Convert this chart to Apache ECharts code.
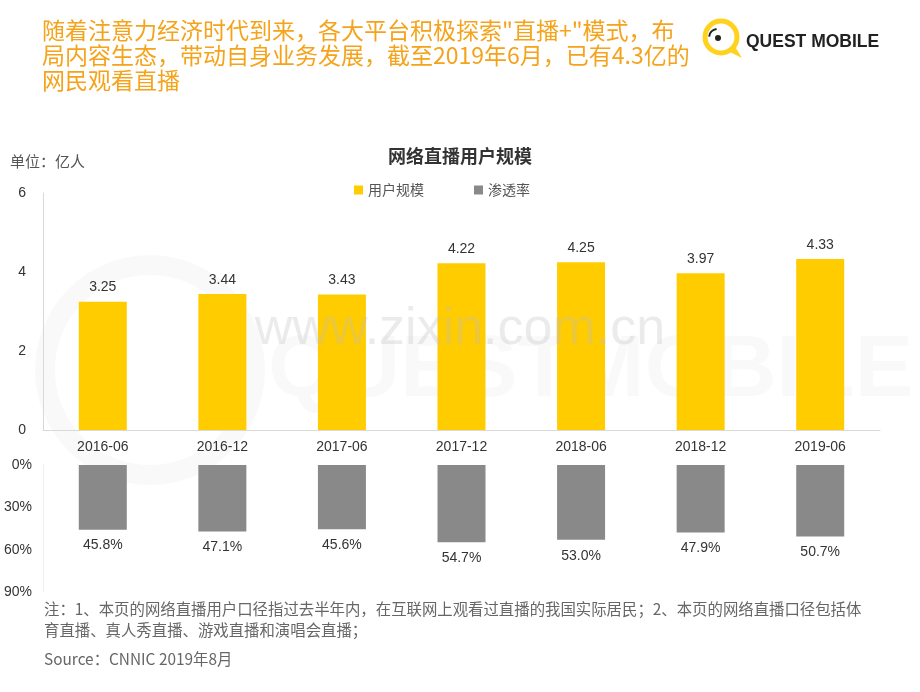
<!DOCTYPE html>
<html>
<head>
<meta charset="utf-8">
<script src="https://cdn.jsdelivr.net/npm/echarts@6/dist/echarts.min.js"></script>
<style>
html,body{margin:0;padding:0;background:#fff;}
#chart{width:920px;height:692px;}
</style>
</head>
<body>
<div id="chart"></div>
<script>
const categories = ['2016-06','2016-12','2017-06','2017-12','2018-06','2018-12','2019-06'];
const userScale = [3.25, 3.44, 3.43, 4.22, 4.25, 3.97, 4.33];
const penetration = [45.8, 47.1, 45.6, 54.7, 53.0, 47.9, 50.7];
const topTicks = [0, 2, 4, 6];
const pctTicks = [0, 30, 60, 90];

const CJK = '"Noto Sans CJK SC", "Microsoft YaHei", sans-serif';
const LAT = 'Arial, "Liberation Sans", "Noto Sans CJK SC", sans-serif';

const chart = echarts.init(document.getElementById('chart'));
chart.setOption({
  backgroundColor: '#fff',
  animation: false,
  title: {
    text: '网络直播用户规模',
    left: 'center',
    top: 142,
    textStyle: {fontFamily: CJK, fontSize: 18, fontWeight: 'bold', color: '#333'}
  },
  legend: {
    top: 178,
    left: 349,
    itemGap: 50,
    itemWidth: 9,
    itemHeight: 9,
    icon: 'rect',
    textStyle: {fontFamily: CJK, fontSize: 14, color: '#555'},
    data: ['用户规模', '渗透率']
  },
  grid: [
    {left: 43, right: 40, top: 193, height: 237},
    {left: 43, right: 40, top: 465, height: 127}
  ],
  xAxis: [
    {
      gridIndex: 0, type: 'category', data: categories,
      axisLine: {lineStyle: {color: '#d9d9d9'}},
      axisTick: {show: false},
      axisLabel: {fontFamily: LAT, fontSize: 14, color: '#333', margin: 10}
    },
    {
      gridIndex: 1, type: 'category', data: categories, position: 'top',
      axisLine: {show: false}, axisTick: {show: false}, axisLabel: {show: false}
    }
  ],
  yAxis: [
    {
      gridIndex: 0, type: 'value', min: topTicks[0], max: topTicks[topTicks.length - 1], interval: 2,
      axisLine: {show: true, lineStyle: {color: '#d9d9d9'}},
      axisTick: {show: false},
      splitLine: {show: false},
      axisLabel: {fontFamily: LAT, fontSize: 14, color: '#333', margin: 17}
    },
    {
      gridIndex: 1, type: 'value', inverse: true, min: pctTicks[0], max: pctTicks[pctTicks.length - 1], interval: 30,
      axisLine: {show: true, lineStyle: {color: '#eeeeee'}},
      axisTick: {show: false},
      splitLine: {show: false},
      axisLabel: {fontFamily: LAT, fontSize: 14, color: '#333', margin: 11, formatter: '{value}%'}
    }
  ],
  series: [
    {
      name: '用户规模', type: 'bar', xAxisIndex: 0, yAxisIndex: 0,
      data: userScale, barWidth: 48,
      itemStyle: {color: '#FFCC00'},
      label: {show: true, position: 'top', distance: 7, fontFamily: LAT, fontSize: 14, color: '#333',
        formatter: p => p.value.toFixed(2)}
    },
    {
      name: '渗透率', type: 'bar', xAxisIndex: 1, yAxisIndex: 1,
      data: penetration, barWidth: 48,
      itemStyle: {color: '#898989'},
      label: {show: true, position: 'bottom', distance: 9, fontFamily: LAT, fontSize: 14, color: '#333',
        formatter: p => p.value.toFixed(1) + '%'}
    }
  ],
  graphic: [
    // faint brand watermark
    {type: 'text', left: 268, top: 328, z: -10, silent: true,
      style: {text: 'QUESTMOBILE', fontFamily: LAT, fontSize: 88, fontWeight: 'bold', fill: 'rgba(0,0,0,0.022)'}},
    {type: 'circle', z: -10, silent: true, shape: {cx: 150, cy: 370, r: 105}, style: {fill: 'none', stroke: 'rgba(0,0,0,0.022)', lineWidth: 20}},
    {type: 'text', left: 42, top: 18, z: 10,
      style: {text: '随着注意力经济时代到来，各大平台积极探索"直播+"模式，布\n局内容生态，带动自身业务发展，截至2019年6月，已有4.3亿的\n网民观看直播',
        fontFamily: CJK, fontSize: 23, lineHeight: 25, fill: '#F5A31A'}},
    {type: 'text', left: 10, top: 154,
      style: {text: '单位：亿人', fontFamily: CJK, fontSize: 15, fill: '#555'}},
    {type: 'text', left: 44, top: 599,
      style: {text: '注：1、本页的网络直播用户口径指过去半年内，在互联网上观看过直播的我国实际居民；2、本页的网络直播口径包括体\n育直播、真人秀直播、游戏直播和演唱会直播；',
        fontFamily: CJK, fontSize: 15.4, lineHeight: 21, fill: '#666'}},
    {type: 'text', left: 44, top: 651,
      style: {text: 'Source：CNNIC 2019年8月', fontFamily: CJK, fontSize: 15.4, fill: '#666'}},
    // logo
    {type: 'circle', shape: {cx: 721, cy: 37, r: 16}, style: {fill: 'none', stroke: '#FFD21F', lineWidth: 5}},
    {type: 'polygon', shape: {points: [[726, 50], [742, 58], [734, 45]]}, style: {fill: '#FFD21F'}},
    {type: 'circle', shape: {cx: 718, cy: 38, r: 3}, style: {fill: '#222'}},
    {type: 'arc', shape: {cx: 718, cy: 38, r: 9, startAngle: Math.PI * 1.05, endAngle: Math.PI * 1.45}, style: {stroke: '#222', lineWidth: 2, fill: 'none'}},
    {type: 'text', left: 746, top: 33,
      style: {text: 'QUEST MOBILE', fontFamily: 'Arial, "Liberation Sans", sans-serif', fontSize: 17.5, fontWeight: 'bold', fill: '#222'}},
    // watermark
    {type: 'text', left: 'center', top: 304, z: 100, silent: true,
      style: {text: 'www.zixin.com.cn', fontFamily: LAT, fontSize: 52, fill: 'rgba(190,190,190,0.3)'}}
  ]
});
</script>
</body>
</html>
